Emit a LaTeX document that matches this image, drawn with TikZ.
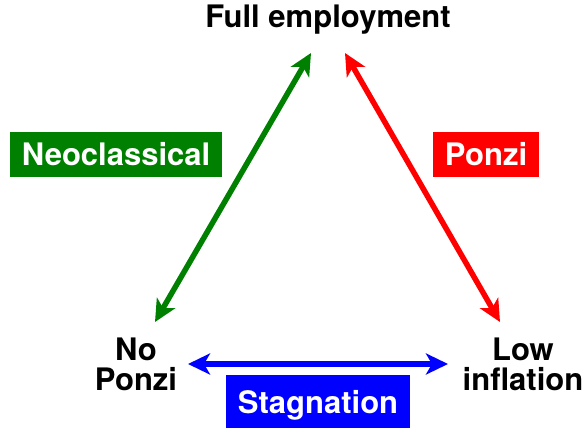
\documentclass[tikz,border=0pt]{standalone}
\usepackage{fontspec}
\setmainfont{TeX Gyre Heros}
\usetikzlibrary{arrows.meta}
\definecolor{neogreen}{RGB}{0,128,0}
\tikzset{
  corner/.style={font=\fontsize{31}{30}\selectfont\bfseries, align=center, inner sep=0pt},
  school/.style={font=\fontsize{31}{31}\selectfont\bfseries, text=white, inner xsep=12pt, minimum height=45pt, text depth=4pt, text height=26pt},
  link/.style={line width=5.5pt, {Stealth[length=22pt,width=21pt,inset=6pt]}-{Stealth[length=22pt,width=21pt,inset=6pt]}}
}
\begin{document}
\begin{tikzpicture}[x=1pt,y=-1pt]
        \useasboundingbox (0,0) rectangle (586,428);
        \node[corner] (full) at (328,20) {Full employment};
        \node[corner] (nopo) at (136,364) {No\\Ponzi};
        \node[corner] (lowi) at (523,364) {Low\\inflation};
        \coordinate (g1) at (155,322);
        \coordinate (g2) at (311,53);
        \coordinate (r1) at (345,53);
        \coordinate (r2) at (500,322);
        \coordinate (b1) at (188,364);
        \coordinate (b2) at (448,364);
        \draw [link,neogreen] (g1) -- (g2);
        \draw [link,red] (r1) -- (r2);
        \draw [link,blue] (b1) -- (b2);
        \node[school,fill=neogreen] (neo) at (116,154.5) {Neoclassical};
        \node[school,fill=red] (ponzi) at (486,154.5) {Ponzi};
        \node[school,fill=blue,minimum height=54pt] (stag) at (318,402) {Stagnation};
    \end{tikzpicture}
\end{document}
